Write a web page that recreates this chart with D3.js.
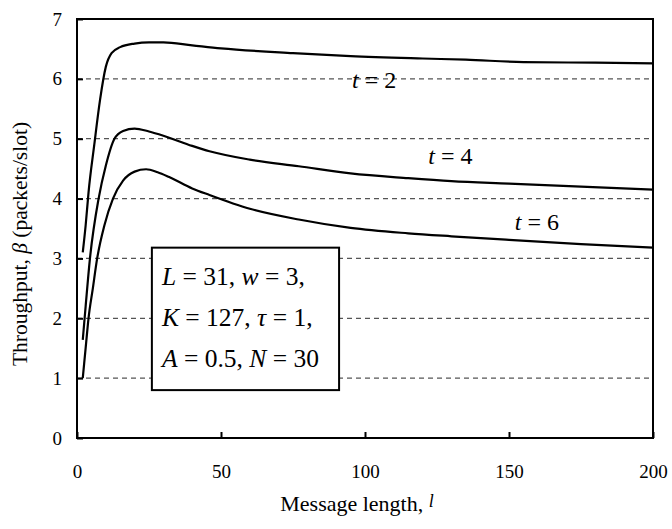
<!DOCTYPE html>
<html>
<head>
<meta charset="utf-8">
<script src="https://cdn.jsdelivr.net/npm/d3@7/dist/d3.min.js"></script>
<style>
  body { margin: 0; background: #fff; }
  svg text { font-family: "Liberation Serif", "DejaVu Serif", serif !important; fill: #000; }
</style>
</head>
<body>
<svg width="672" height="529"></svg>
<script>
// message length l and throughput beta
var lenT2 = [2, 3, 4, 6, 8, 10, 12, 15, 20, 25, 30, 40, 50, 75, 95, 120, 135, 155, 180, 200];
var thrT2 = [3.1, 3.55, 4.1, 4.9, 5.65, 6.2, 6.43, 6.53, 6.59, 6.61, 6.61, 6.56, 6.51, 6.43, 6.38, 6.34, 6.32, 6.28, 6.27, 6.26];

var lenT4 = [2, 3, 4.5, 7.5, 10, 13, 16, 20, 25, 30, 40, 46, 60, 77, 95, 115, 130, 150, 175, 200];
var thrT4 = [1.64, 2.2, 3.0, 4.0, 4.55, 5.0, 5.13, 5.17, 5.12, 5.05, 4.88, 4.79, 4.65, 4.54, 4.42, 4.34, 4.29, 4.25, 4.2, 4.15];

var lenT6 = [2, 3, 4, 5.5, 7, 9.5, 12.5, 16, 20, 24, 28, 32, 40, 46, 60, 77, 95, 115, 130, 150, 175, 200];
var thrT6 = [1.0, 1.5, 2.0, 2.5, 3.0, 3.55, 4.0, 4.3, 4.45, 4.49, 4.44, 4.36, 4.17, 4.06, 3.83, 3.65, 3.51, 3.42, 3.37, 3.31, 3.24, 3.18];

var xTicks = [0, 50, 100, 150, 200];
var yTicks = [0, 1, 2, 3, 4, 5, 6, 7];
var gridLevels = [1, 2, 3, 4, 5, 6];

var curveLabels = [
    {t: "2", l: 95.5, v: 5.85},
    {t: "4", l: 122, v: 4.57},
    {t: "6", l: 152, v: 3.48}
];

var serif = "'Liberation Serif', 'DejaVu Serif', serif";

var svg = d3.select("svg"),
    margin = {top: 19, right: 19, bottom: 91, left: 77},
    width = +svg.attr("width") - margin.left - margin.right,
    height = +svg.attr("height") - margin.top - margin.bottom,
    g = svg.append("g").attr("transform", "translate(" + margin.left + "," + margin.top + ")");

var x = d3.scaleLinear().domain([0, 200]).range([0, width]);
var y = d3.scaleLinear().domain([0, 7]).range([height, 0]);

// dashed grid
g.selectAll(".grid")
    .data(gridLevels)
    .enter().append("line")
    .attr("class", "grid")
    .attr("x1", 0).attr("x2", width)
    .attr("y1", function(d) { return y(d); })
    .attr("y2", function(d) { return y(d); })
    .attr("stroke", "#555")
    .attr("stroke-width", 1.3)
    .attr("stroke-dasharray", "5,4");

// axes, ticks inside
var yAxis = g.append("g")
    .call(d3.axisLeft(y).tickValues(yTicks).tickSize(-6).tickPadding(15).tickFormat(d3.format("d")));
var xAxis = g.append("g")
    .attr("transform", "translate(0," + height + ")")
    .call(d3.axisBottom(x).tickValues(xTicks).tickSize(-6).tickPadding(26.5).tickFormat(d3.format("d")));

[yAxis, xAxis].forEach(function(a) {
    a.attr("font-family", serif).attr("font-size", 19);
    a.select(".domain").remove();
    a.selectAll("line").attr("stroke", "#000").attr("stroke-width", 2);
    a.selectAll("text").attr("font-size", 19).style("font-family", serif);
});

// curves
var series = [[lenT2, thrT2], [lenT4, thrT4], [lenT6, thrT6]];
var line = d3.line()
    .x(function(d) { return x(d[0]); })
    .y(function(d) { return y(d[1]); })
    .curve(d3.curveMonotoneX);

g.selectAll(".curve")
    .data(series)
    .enter().append("path")
    .attr("class", "curve")
    .attr("fill", "none")
    .attr("stroke", "#000")
    .attr("stroke-width", 2.2)
    .attr("d", function(s) { return line(d3.zip(s[0], s[1])); });

// curve labels
curveLabels.forEach(function(c) {
    var tx = g.append("text")
        .attr("x", x(c.l))
        .attr("y", y(c.v))
        .attr("font-size", 24)
        .style("font-family", serif);
    tx.append("tspan").attr("font-style", "italic").text("t");
    tx.append("tspan").text(" = " + c.t);
});

// parameter box
var box = g.append("g");
box.append("rect")
    .attr("x", x(26)).attr("y", y(3.18))
    .attr("width", x(65) - x(0)).attr("height", y(0.8) - y(3.18))
    .attr("fill", "#fff")
    .attr("stroke", "#000")
    .attr("stroke-width", 2);

var boxLines = [
    [["L", true], [" = 31, ", false], ["w", true], [" = 3,", false]],
    [["K", true], [" = 127, ", false], ["τ", true], [" = 1,", false]],
    [["A", true], [" = 0.5, ", false], ["N", true], [" = 30", false]]
];
boxLines.forEach(function(parts, i) {
    var tx = box.append("text")
        .attr("x", x(29.5))
        .attr("y", 266 + i * 41)
        .attr("font-size", 25.5)
        .style("font-family", serif);
    parts.forEach(function(p) {
        tx.append("tspan")
            .attr("font-style", p[1] ? "italic" : null)
            .text(p[0]);
    });
});

// frame
g.append("rect")
    .attr("width", width).attr("height", height)
    .attr("fill", "none")
    .attr("stroke", "#000")
    .attr("stroke-width", 2);

// axis titles
var xt = svg.append("text")
    .attr("x", 357)
    .attr("y", 511)
    .attr("font-size", 22)
    .attr("text-anchor", "middle")
    .style("font-family", serif);
xt.append("tspan").text("Message length, ");
xt.append("tspan").attr("font-style", "italic").attr("font-size", 18).attr("dy", -4).text("l");

var yt = svg.append("text")
    .attr("transform", "translate(27," + 244 + ") rotate(-90)")
    .attr("font-size", 21.5)
    .attr("text-anchor", "middle")
    .style("font-family", serif);
yt.append("tspan").text("Throughput, ");
yt.append("tspan").attr("font-style", "italic").text("β");
yt.append("tspan").text(" (packets/slot)");
</script>
</body>
</html>
